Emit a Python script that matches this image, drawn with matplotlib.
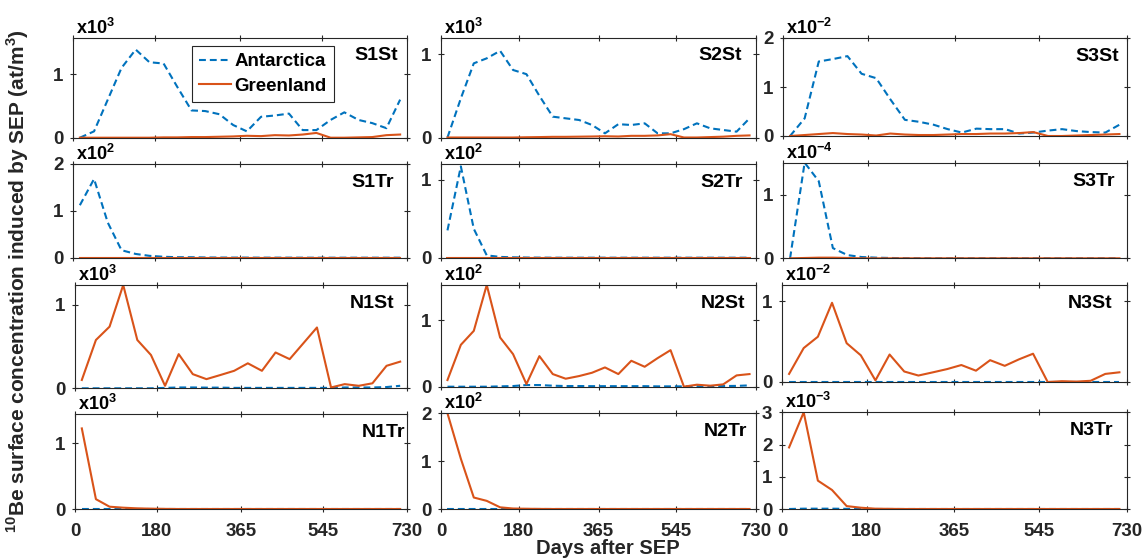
import numpy as np
import matplotlib
matplotlib.use('Agg')
import matplotlib.pyplot as plt
from matplotlib.ticker import MultipleLocator

plt.rcParams['font.family'] = ['Liberation Sans', 'DejaVu Sans']
plt.rcParams['font.weight'] = 'bold'
plt.rcParams['mathtext.fontset'] = 'custom'
plt.rcParams['mathtext.rm'] = 'Liberation Sans:bold'
plt.rcParams['mathtext.bf'] = 'Liberation Sans:bold'

# monthly means, days after the SEP event
days = [15, 46, 76, 106, 137, 167, 198, 228, 259, 289, 320, 350,
        380, 411, 441, 472, 502, 532, 563, 593, 624, 654, 685, 715]

# values in units of the panel multiplier (x10^n)
S1St_ant = [0.0, 0.1, 0.6, 1.1, 1.39, 1.19, 1.17, 0.8, 0.43, 0.42, 0.37, 0.2,
            0.1, 0.33, 0.35, 0.38, 0.12, 0.12, 0.28, 0.40, 0.28, 0.23, 0.15, 0.6]
S1St_grl = [0.0, 0.0, 0.0, 0.0, 0.0, 0.0, 0.005, 0.005, 0.01, 0.01, 0.015, 0.02,
            0.03, 0.025, 0.04, 0.035, 0.05, 0.075, 0.0, 0.0, 0.005, 0.01, 0.04, 0.05]
S2St_ant = [0.0, 0.47, 0.89, 0.95, 1.04, 0.81, 0.76, 0.5, 0.25, 0.23, 0.21, 0.15,
            0.05, 0.16, 0.15, 0.17, 0.05, 0.05, 0.1, 0.17, 0.11, 0.09, 0.07, 0.23]
S2St_grl = [0.0, 0.0, 0.0, 0.0, 0.0, 0.0, 0.003, 0.005, 0.008, 0.008, 0.01, 0.012,
            0.015, 0.012, 0.02, 0.02, 0.025, 0.04, 0.0, 0.0, 0.005, 0.01, 0.02, 0.025]
S3St_ant = [0.0, 0.36, 1.52, 1.57, 1.63, 1.27, 1.18, 0.75, 0.33, 0.29, 0.23, 0.14,
            0.07, 0.15, 0.14, 0.14, 0.05, 0.07, 0.11, 0.14, 0.1, 0.08, 0.07, 0.23]
S3St_grl = [0.0, 0.02, 0.04, 0.06, 0.04, 0.03, 0.01, 0.05, 0.03, 0.02, 0.02, 0.03,
            0.04, 0.04, 0.05, 0.05, 0.06, 0.08, 0.0, 0.0, 0.01, 0.02, 0.03, 0.04]

S1Tr_ant = [1.12, 1.68, 0.75, 0.16, 0.08, 0.04, 0.02, 0.01, 0.01, 0.005, 0.003, 0.002,
            0.002, 0.001, 0.001, 0.001, 0.0, 0.0, 0.0, 0.0, 0.0, 0.0, 0.0, 0.0]
S1Tr_grl = [0.0] * 24
S2Tr_ant = [0.35, 1.17, 0.37, 0.03, 0.01, 0.005, 0.002, 0.001, 0.0, 0.0, 0.0, 0.0,
            0.0, 0.0, 0.0, 0.0, 0.0, 0.0, 0.0, 0.0, 0.0, 0.0, 0.0, 0.0]
S2Tr_grl = [0.0] * 24
S3Tr_ant = [0.0, 1.5, 1.21, 0.16, 0.05, 0.02, 0.01, 0.005, 0.002, 0.001, 0.0, 0.0,
            0.0, 0.0, 0.0, 0.0, 0.0, 0.0, 0.0, 0.0, 0.0, 0.0, 0.0, 0.0]
S3Tr_grl = [0.0, 0.005, 0.01, 0.01, 0.005, 0.0, 0.0, 0.0, 0.0, 0.0, 0.0, 0.0,
            0.0, 0.0, 0.0, 0.0, 0.0, 0.0, 0.0, 0.0, 0.0, 0.0, 0.0, 0.0]

N1St_ant = [0.0, 0.0, 0.0, 0.0, 0.0, 0.0, 0.005, 0.01, 0.01, 0.008, 0.008, 0.005,
            0.005, 0.005, 0.005, 0.005, 0.005, 0.005, 0.005, 0.01, 0.01, 0.01, 0.015, 0.03]
N1St_grl = [0.1, 0.58, 0.74, 1.24, 0.58, 0.4, 0.03, 0.41, 0.17, 0.11, 0.16, 0.21,
            0.3, 0.21, 0.43, 0.35, 0.54, 0.73, 0.01, 0.05, 0.03, 0.06, 0.27, 0.32]
N2St_ant = [0.0, 0.0, 0.0, 0.0, 0.005, 0.01, 0.025, 0.025, 0.015, 0.01, 0.01, 0.008,
            0.008, 0.008, 0.008, 0.008, 0.005, 0.005, 0.005, 0.008, 0.008, 0.01, 0.012, 0.02]
N2St_grl = [0.1, 0.63, 0.84, 1.53, 0.74, 0.49, 0.04, 0.46, 0.19, 0.12, 0.16, 0.21,
            0.29, 0.19, 0.39, 0.3, 0.43, 0.55, 0.0, 0.03, 0.015, 0.035, 0.17, 0.19]
N3St_ant = [0.0] * 24
N3St_grl = [0.1, 0.42, 0.56, 0.98, 0.48, 0.33, 0.02, 0.34, 0.13, 0.08, 0.12, 0.16,
            0.21, 0.14, 0.27, 0.2, 0.28, 0.35, 0.0, 0.01, 0.005, 0.015, 0.1, 0.12]

N1Tr_ant = [0.0] * 24
N1Tr_grl = [1.23, 0.15, 0.035, 0.02, 0.01, 0.005, 0.002, 0.0, 0.0, 0.0, 0.0, 0.0,
            0.0, 0.0, 0.0, 0.0, 0.0, 0.0, 0.0, 0.0, 0.0, 0.0, 0.0, 0.0]
N2Tr_ant = [0.0] * 24
N2Tr_grl = [2.0, 1.05, 0.24, 0.17, 0.035, 0.01, 0.005, 0.002, 0.0, 0.0, 0.0, 0.0,
            0.0, 0.0, 0.0, 0.0, 0.0, 0.0, 0.0, 0.0, 0.0, 0.0, 0.0, 0.0]
N3Tr_ant = [0.0, 0.01, 0.01, 0.01, 0.005, 0.002, 0.0, 0.0, 0.0, 0.0, 0.0, 0.0,
            0.0, 0.0, 0.0, 0.0, 0.0, 0.0, 0.0, 0.0, 0.0, 0.0, 0.0, 0.0]
N3Tr_grl = [1.91, 3.0, 0.88, 0.59, 0.09, 0.04, 0.01, 0.005, 0.0, 0.0, 0.0, 0.0,
            0.0, 0.0, 0.0, 0.0, 0.0, 0.0, 0.0, 0.0, 0.0, 0.0, 0.0, 0.0]

panel_names = ['S1St', 'S2St', 'S3St', 'S1Tr', 'S2Tr', 'S3Tr',
               'N1St', 'N2St', 'N3St', 'N1Tr', 'N2Tr', 'N3Tr']
antarctica = [S1St_ant, S2St_ant, S3St_ant, S1Tr_ant, S2Tr_ant, S3Tr_ant,
              N1St_ant, N2St_ant, N3St_ant, N1Tr_ant, N2Tr_ant, N3Tr_ant]
greenland = [S1St_grl, S2St_grl, S3St_grl, S1Tr_grl, S2Tr_grl, S3Tr_grl,
             N1St_grl, N2St_grl, N3St_grl, N1Tr_grl, N2Tr_grl, N3Tr_grl]
exponents = [3, 3, -2, 2, 2, -4, 3, 2, -2, 3, 2, -3]
ymax = [1.58, 1.2, 2, 2, 1.2, 1.5, 1.24, 1.53, 1.2, 1.45, 2, 3]
xticks = [0, 180, 365, 545, 730]

# axes boxes in pixels: left, top, right, bottom
boxes = [(73, 37.5, 407, 137.7), (441, 37.5, 756, 137.5), (783, 38, 1126.5, 136),
         (73, 164, 407, 257.7), (441, 164, 756, 257.7), (783, 162.7, 1126.5, 258.3),
         (75, 285, 407, 388.3), (441, 285, 756, 386.7), (782, 285, 1126.5, 382),
         (75, 414, 407, 509), (441, 413.3, 756, 509), (782, 412.3, 1126.5, 509)]
label_dx = [-9, -14, -7, -13, -13, -12, -13, -11, -14, -2, -9, -13]

W, H = 1147, 560
blue = '#0072BD'
orange = '#D95319'
axcol = '#262626'

fig = plt.figure(figsize=(W / 100, H / 100), dpi=100)

for i, name in enumerate(panel_names):
    l, t, r, b = boxes[i]
    ax = fig.add_axes([l / W, 1 - b / H, (r - l) / W, (b - t) / H])
    ax.plot(days, antarctica[i], color=blue, linestyle='--', dashes=(3.3, 1.9),
            linewidth=1.5, label='Antarctica')
    ax.plot(days, greenland[i], color=orange, linewidth=1.5, label='Greenland')
    ax.set_xlim(0, 730)
    ax.set_ylim(0, ymax[i])
    ax.set_xticks(xticks)
    ax.yaxis.set_major_locator(MultipleLocator(1))
    ax.tick_params(direction='inout', length=4, width=0.8, top=True, right=True,
                   labelsize=13.5, colors=axcol)
    ax.tick_params(axis='x', pad=8)
    ax.tick_params(axis='y', pad=5)
    for sp in ax.spines.values():
        sp.set_color(axcol)
        sp.set_linewidth(0.8)
    if i < 9:
        ax.set_xticklabels([])
    ax.annotate(name, xy=(1, 1), xycoords='axes fraction', xytext=(label_dx[i], -10),
                textcoords='offset pixels', ha='right', va='top', fontsize=14,
                fontweight='bold', color='black')
    ax.annotate(r'x10$^{%d}$' % exponents[i], xy=(0, 1), xycoords='axes fraction',
                xytext=(3, 0), textcoords='offset pixels', ha='left', va='bottom',
                fontsize=13, fontweight='bold', color='black')
    if i == 0:
        leg = ax.legend(loc='upper left', bbox_to_anchor=(0.355, 0.92), fontsize=13.5,
                        fancybox=False, framealpha=1, edgecolor=axcol,
                        handlelength=1.7, handletextpad=0.2, labelspacing=0.4,
                        borderpad=0.4, borderaxespad=0)
        leg.get_frame().set_linewidth(0.8)

fig.text(18 / W, 1 - 281 / H, r'$^{10}$Be surface concentration induced by SEP (at/m$^{3}$)',
         rotation=90, ha='center', va='center', fontsize=15, fontweight='bold', color=axcol)
fig.text(608 / W, 1 - 549 / H, 'Days after SEP', ha='center', va='center',
         fontsize=14.5, fontweight='bold', color=axcol)

fig.savefig('out.png', dpi=100)
